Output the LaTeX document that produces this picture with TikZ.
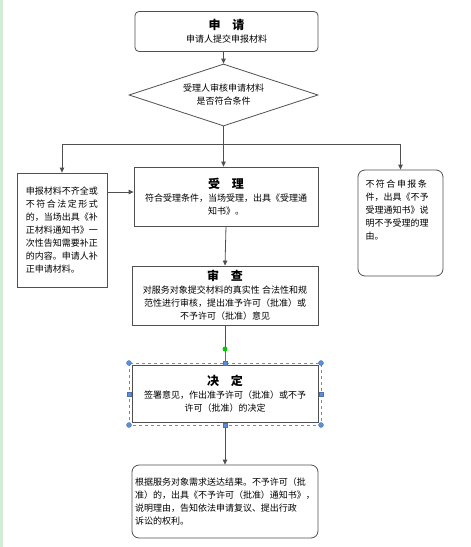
\documentclass[tikz,border=0pt]{standalone}
\usepackage{fontspec}
\setmainfont{Noto Sans CJK SC}
\usepackage{xcolor}
\usepackage{tikz}
\usetikzlibrary{arrows.meta, positioning, shapes.geometric}

\definecolor{linegray}{HTML}{505050}
\definecolor{selblue}{HTML}{5B8FD9}
\definecolor{stripgreen}{HTML}{D3ECD6}

\newcommand{\stepname}[2]{{\fontsize{12}{15}\selectfont\bfseries #1\hspace{1em}#2}}

\begin{document}
\begin{tikzpicture}[
  x=1pt, y=-1pt,
  every node/.style={font=\fontsize{9}{13}\selectfont, inner sep=0pt},
  box/.style={draw=linegray, line width=0.8pt, align=center},
  rbox/.style={box, rounded corners=7pt},
  arrow/.style={-{Triangle[length=5pt,width=4.5pt]}, draw=linegray, line width=0.8pt},
  handle/.style={fill=selblue, draw=selblue!80!black, line width=0.3pt}
]
\useasboundingbox (0,0) rectangle (471,547);
\fill[stripgreen] (0,0) rectangle (2.5,547);

% Nodes
\node[rbox, rounded corners=4pt, minimum width=183, minimum height=40] (shenqing) at (226.5,31.5)
  {\stepname{申}{请}\\申请人提交申报材料};
\node[diamond, draw=linegray, line width=0.8pt, align=center, aspect=3,
  minimum width=189, minimum height=62] (panding) at (223.5,95)
  {受理人审核申请材料\\是否符合条件};
\node[box, align=left, minimum width=90, minimum height=114] (buzheng) at (62,230)
  {申报材料不齐全或\\不\,符\,合\,法\,定\,形\,式\\的，当场出具《补\\正材料通知书》一\\次性告知需要补正\\的内容。申请人补\\正申请材料。};
\node[box, minimum width=184, minimum height=59] (shouli) at (226,196.5)
  {\stepname{受}{理}\\符合受理条件，当场受理，出具《受理通\\知书》。\hspace{11.5em}};
\node[rbox, minimum width=85, minimum height=106] (buyu) at (400.5,223)
  {\parbox[c][92pt][t]{70pt}{\raggedright\vspace*{3pt}不\,符\,合\,申\,报\,条\\件，出具《不予\\受理通知书》说\\明不予受理的理\\由。}};
\node[box, minimum width=186, minimum height=59] (shencha) at (225,295.5)
  {\stepname{审}{查}\\对服务对象提交材料的真实性 合法性和规\\范性进行审核，提出准予许可（批准）或\\不予许可（批准）意见};
\node[box, minimum width=186, minimum height=57] (jueding) at (225,393.5)
  {\stepname{决}{定}\\签署意见，作出准予许可（批准）或不予\\许可（批准）的决定};
\node[rbox, align=left, minimum width=186, minimum height=73] (songda) at (225,501.5)
  {根据服务对象需求送达结果。不予许可（批\\准）的，出具《不予许可（批准）通知书》，\\说明理由，告知依法申请复议、提出行政\\诉讼的权利。};

\coordinate (fork) at (223.5,144);
\coordinate (dot) at (225,349);

% Pointers
\draw[arrow] (shenqing.south -| panding.north) -- (panding.north);
\draw[linegray, line width=0.8pt] (panding.south) -- (fork);
\draw[arrow] (fork) -| (buzheng.north);
\draw[arrow] (fork) -| (buyu.north);
\draw[arrow] (fork) -- (fork |- shouli.north);
\draw[arrow] (buzheng.east |- 0,192) -- (shouli.west |- 0,192);
\draw[arrow] (shouli.south) -- (shencha.north);
\draw[linegray, line width=0.8pt] (shencha.south) -- (dot);
\draw[selblue!80!black, line width=0.9pt] (dot) -- (jueding.north);
\draw[arrow] (jueding.south) -- (songda.north);

% Selection marks
\draw[selblue, dashed, line width=0.4pt] (129,363) rectangle (321,425);
\foreach \p in {(129,363),(321,363),(129,425),(321,425)}
  \draw[handle] \p circle (2.5);
\foreach \p in {(129,394),(321,394),(225,363),(225,425)}
  \draw[handle] \p ++(-2.2,-2.2) rectangle ++(4.4,4.4);
\fill[green!80!black] (dot) circle (2.5);

\end{tikzpicture}
\end{document}
